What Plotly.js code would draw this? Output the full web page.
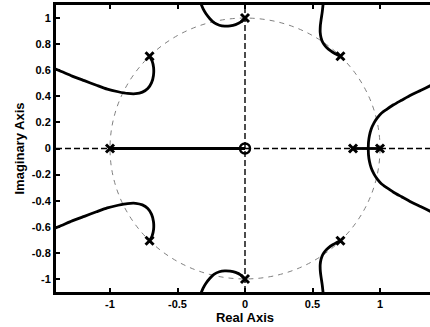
<!DOCTYPE html>
<html>
<head>
<meta charset="utf-8">
<script src="https://cdn.plot.ly/plotly-3.0.1.min.js"></script>
<style>
html,body{margin:0;padding:0;overflow:hidden;background:#fff;width:430px;height:327px;}
#chart{width:440px;height:327px;}
</style>
</head>
<body>
<div id="chart"></div>
<script>
// Pole and zero locations
const poleX = [1, 0.707, 0, -0.707, -1, -0.707, 0, 0.707, 0.8];
const poleY = [0, 0.707, 1, 0.707, 0, -0.707, -1, -0.707, 0];
const zeroX = [0];
const zeroY = [0];

// Real-axis segments of the locus
const realSeg1X = [-1, 0];
const realSeg1Y = [0, 0];
const realSeg2X = [0.8, 1];
const realSeg2Y = [0, 0];

// Branch from -0.707+0.707j (upper left)
const brA_upX = [-0.707, -0.688, -0.677, -0.678, -0.692, -0.72, -0.76, -0.81, -0.87, -0.94, -1.02, -1.10, -1.19, -1.28, -1.36, -1.42];
const brA_upY = [0.707, 0.67, 0.62, 0.56, 0.505, 0.46, 0.432, 0.42, 0.422, 0.435, 0.455, 0.485, 0.52, 0.555, 0.59, 0.615];
// Branch from -0.707-0.707j (lower left)
const brA_loX = [-0.707, -0.688, -0.677, -0.678, -0.692, -0.72, -0.76, -0.81, -0.87, -0.94, -1.02, -1.10, -1.19, -1.28, -1.36, -1.42];
const brA_loY = [-0.707, -0.67, -0.62, -0.56, -0.505, -0.46, -0.432, -0.42, -0.422, -0.435, -0.455, -0.485, -0.52, -0.555, -0.59, -0.615];

// Branch from +j (top)
const brB_upX = [0, -0.03, -0.07, -0.11, -0.15, -0.19, -0.23, -0.26, -0.29, -0.31, -0.33];
const brB_upY = [1.0, 0.97, 0.95, 0.94, 0.938, 0.945, 0.965, 0.995, 1.035, 1.07, 1.12];
// Branch from -j (bottom)
const brB_loX = [0, -0.03, -0.07, -0.11, -0.15, -0.19, -0.23, -0.26, -0.29, -0.31, -0.33];
const brB_loY = [-1.0, -0.97, -0.95, -0.94, -0.938, -0.945, -0.965, -0.995, -1.035, -1.07, -1.12];

// Branch from 0.707+0.707j
const brC_upX = [0.707, 0.68, 0.65, 0.62, 0.595, 0.575, 0.563, 0.557, 0.558, 0.564, 0.572, 0.58];
const brC_upY = [0.707, 0.72, 0.738, 0.76, 0.785, 0.815, 0.85, 0.89, 0.94, 0.99, 1.045, 1.12];
// Branch from 0.707-0.707j
const brC_loX = [0.707, 0.68, 0.65, 0.62, 0.595, 0.575, 0.563, 0.557, 0.558, 0.564, 0.572, 0.58];
const brC_loY = [-0.707, -0.72, -0.738, -0.76, -0.785, -0.815, -0.85, -0.89, -0.94, -0.99, -1.045, -1.12];

// Breakaway branches near z = 0.913
const brD_upX = [0.913, 0.915, 0.922, 0.935, 0.955, 0.98, 1.01, 1.05, 1.10, 1.16, 1.23, 1.30, 1.37, 1.44];
const brD_upY = [0, 0.05, 0.10, 0.15, 0.195, 0.235, 0.27, 0.30, 0.335, 0.37, 0.41, 0.445, 0.48, 0.515];
const brD_loX = [0.913, 0.915, 0.922, 0.935, 0.955, 0.98, 1.01, 1.05, 1.10, 1.16, 1.23, 1.30, 1.37, 1.44];
const brD_loY = [0, -0.05, -0.10, -0.15, -0.195, -0.235, -0.27, -0.30, -0.335, -0.37, -0.41, -0.445, -0.48, -0.515];

// Axis ticks
const xTickVals = [-1, -0.5, 0, 0.5, 1];
const xTickText = ["-1", "-0.5", "0", "0.5", "1"];
const yTickVals = [-1, -0.8, -0.6, -0.4, -0.2, 0, 0.2, 0.4, 0.6, 0.8, 1];
const yTickText = ["-1", "-0.8", "-0.6", "-0.4", "-0.2", "0", "0.2", "0.4", "0.6", "0.8", "1"];
const xRange = [-1.4, 1.4];
const yRange = [-1.1, 1.1];
const unitRadius = 1;

const locusLine = {color: "#000", width: 2.8, shape: "spline", smoothing: 0.6};
function branch(x, y) {
  return {x: x, y: y, mode: "lines", line: locusLine, hoverinfo: "skip", showlegend: false};
}

const traces = [
  {x: realSeg1X, y: realSeg1Y, mode: "lines", line: {color: "#000", width: 2.8}, showlegend: false},
  {x: realSeg2X, y: realSeg2Y, mode: "lines", line: {color: "#000", width: 2.8}, showlegend: false},
  branch(brA_upX, brA_upY), branch(brA_loX, brA_loY),
  branch(brB_upX, brB_upY), branch(brB_loX, brB_loY),
  branch(brC_upX, brC_upY), branch(brC_loX, brC_loY),
  branch(brD_upX, brD_upY), branch(brD_loX, brD_loY),
  {x: poleX, y: poleY, mode: "markers", showlegend: false,
   marker: {symbol: "x-thin-open", size: 8, color: "#000", line: {color: "#000", width: 3}}},
  {x: zeroX, y: zeroY, mode: "markers", showlegend: false,
   marker: {symbol: "circle-open", size: 10, color: "#000", line: {color: "#000", width: 2.5}}}
];

const tickFont = {family: "Liberation Sans, Arial, sans-serif", size: 11, color: "#000", weight: "bold"};
const titleFont = {family: "Liberation Sans, Arial, sans-serif", size: 13, color: "#000", weight: "bold"};

const layout = {
  width: 440, height: 327,
  margin: {l: 56, r: 6, t: 5, b: 35},
  paper_bgcolor: "#fff", plot_bgcolor: "#fff",
  showlegend: false,
  xaxis: {
    range: xRange, tickvals: xTickVals, ticktext: xTickText,
    showgrid: false, zeroline: false, showline: true, linewidth: 3, linecolor: "#000",
    mirror: "ticks", ticks: "inside", ticklen: 4, tickwidth: 2, tickcolor: "#000",
    tickfont: tickFont, title: {text: "Real Axis", font: titleFont, standoff: 3}
  },
  yaxis: {
    range: yRange, tickvals: yTickVals, ticktext: yTickText,
    showgrid: false, zeroline: false, showline: true, linewidth: 3, linecolor: "#000",
    mirror: "ticks", ticks: "inside", ticklen: 4, tickwidth: 2, tickcolor: "#000",
    tickfont: tickFont, title: {text: "Imaginary Axis", font: titleFont, standoff: 5}
  },
  shapes: [
    {type: "circle", xref: "x", yref: "y", x0: -unitRadius, y0: -unitRadius, x1: unitRadius, y1: unitRadius,
     line: {color: "#808080", width: 1, dash: "5px,5px"}, layer: "below"},
    {type: "line", xref: "paper", yref: "y", x0: 0, x1: 1, y0: 0, y1: 0,
     line: {color: "#000", width: 1.4, dash: "6px,3px"}, layer: "below"},
    {type: "line", xref: "x", yref: "paper", x0: 0, x1: 0, y0: 0, y1: 1,
     line: {color: "#000", width: 1.4, dash: "6px,3px"}, layer: "below"}
  ]
};

Plotly.newPlot("chart", traces, layout, {displayModeBar: false, staticPlot: true});
</script>
</body>
</html>
